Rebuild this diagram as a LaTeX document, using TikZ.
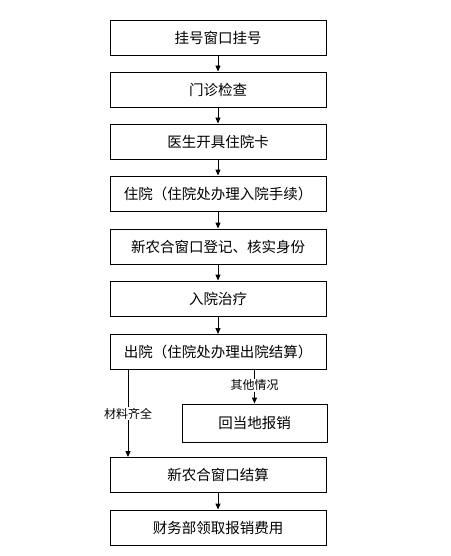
\documentclass[tikz,border=0pt]{standalone}
\usepackage{fontspec}
\setmainfont{Noto Sans CJK SC}
\usetikzlibrary{arrows.meta}
\begin{document}
\begin{tikzpicture}[x=1pt,y=-1pt,
  stepbox/.style={draw,line width=0.9pt,minimum width=216pt,minimum height=35pt,inner sep=0pt,font=\fontsize{14.5}{16}\selectfont},
  sidebox/.style={draw,line width=0.9pt,minimum width=145pt,minimum height=38pt,inner sep=0pt,font=\fontsize{14.5}{16}\selectfont},
  arr/.style={line width=0.9pt,-{Triangle[length=6pt,width=5pt]}},
  lbl/.style={font=\fontsize{12}{14}\selectfont,inner sep=1pt,fill=white}]
\useasboundingbox (0,0) rectangle (450,556);
\node[stepbox] (b1) at (218,37.5) {挂号窗口挂号};
\node[stepbox] (b2) at (218,89.5) {门诊检查};
\node[stepbox] (b3) at (218,141.5) {医生开具住院卡};
\node[stepbox] (b4) at (218,193.5) {住院（住院处办理入院手续）};
\node[stepbox] (b5) at (218,246.5) {新农合窗口登记、核实身份};
\node[stepbox] (b6) at (218,298.5) {入院治疗};
\node[stepbox] (b7) at (218,352) {出院（住院处办理出院结算）};
\node[sidebox] (s) at (254.5,423) {回当地报销};
\node[stepbox] (b8) at (218,475) {新农合窗口结算};
\node[stepbox] (b9) at (218,527.5) {财务部领取报销费用};
\draw[arr] (b1) -- (b2);
\draw[arr] (b2) -- (b3);
\draw[arr] (b3) -- (b4);
\draw[arr] (b4) -- (b5);
\draw[arr] (b5) -- (b6);
\draw[arr] (b6) -- (b7);
\draw[arr] (b8) -- (b9);
\draw[arr] (b7.south -| s.north) -- node[lbl,pos=0.45] (l1) {其他情况} (s.north);
\coordinate (lt) at (128,0);
\draw[arr] (b7.south -| lt) -- node[lbl,pos=0.5] (l2) {材料齐全} (b8.north -| lt);
\end{tikzpicture}
\end{document}
